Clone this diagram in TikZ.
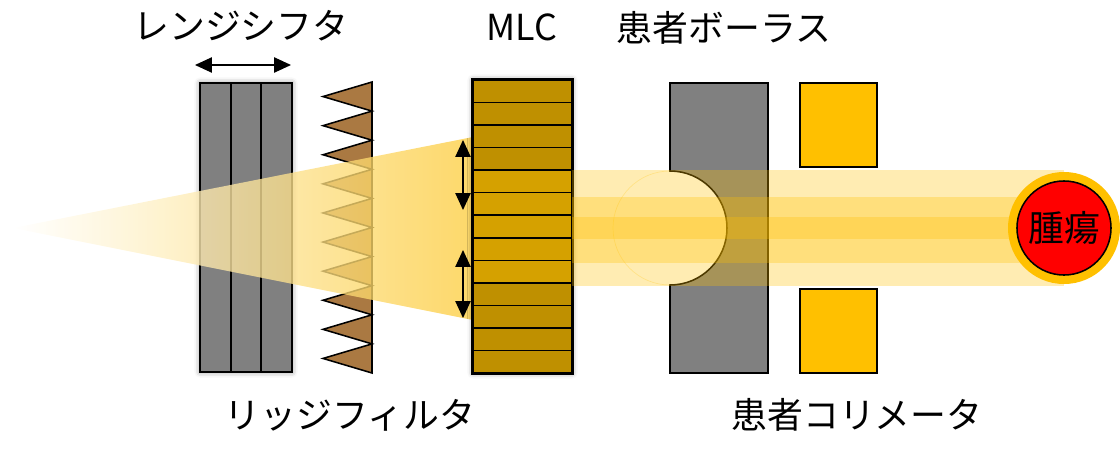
\documentclass[tikz,border=0pt]{standalone}
\usepackage{fontspec}
\setmainfont{Noto Sans CJK JP}
\usetikzlibrary{arrows.meta,shadows.blur}
\definecolor{shiftgray}{RGB}{128,128,128}
\definecolor{ridgebrown}{RGB}{170,121,66}
\definecolor{leafgold}{RGB}{191,144,0}
\definecolor{leaflight}{RGB}{213,161,0}
\definecolor{beamgold}{RGB}{255,192,0}
\definecolor{conegold}{RGB}{252,205,64}
\definecolor{tumorred}{RGB}{255,0,0}

\begin{document}
\begin{tikzpicture}[
  x=0.025cm, y=0.025cm,
  outline/.style={draw=black, line width=1.1pt},
  grayblock/.style={rectangle, outline, fill=shiftgray, inner sep=0pt},
  leaf/.style={draw=black, line width=1.1pt},
  collblock/.style={rectangle, outline, fill=beamgold, inner sep=0pt, minimum width=1.925cm, minimum height=2.1cm},
  band/.style={fill=beamgold, fill opacity=0.3},
  partname/.style={font=\fontsize{25.5}{30}\selectfont, inner sep=0pt},
  shiftarrow/.style={{Triangle[length=4.2mm,width=3.8mm]}-{Triangle[length=4.2mm,width=3.8mm]}, line width=0.9pt},
  softshadow/.style={blur shadow={shadow xshift=0pt, shadow yshift=0pt, shadow blur radius=4pt, shadow opacity=45}}
]
\clip (0,0) rectangle (1120,450);

% range shifter, three plates
\node[grayblock, softshadow, minimum width=2.3cm, minimum height=7.225cm] (shifter) at (246,222.5) {};
\foreach \x in {231,261}
  \draw[line width=1.1pt] (\x,78) -- (\x,367);
\coordinate (shiftL) at (195,385);
\coordinate (shiftR) at (291,385);
\draw[shiftarrow] (shiftL) -- (shiftR);

% ridge filter teeth
\draw[outline, fill=ridgebrown] (372,368)
  \foreach \k in {0,...,9}{ -- (323,{368-29.1*(\k+0.5)}) -- (372,{368-29.1*(\k+1)}) } -- cycle;

% spreading beam in front of the MLC
\coordinate (apex) at (13,222);
\shade[left color=white, right color=conegold, fill opacity=0.78] (apex) -- (473,313) -- (473,130) -- cycle;

% MLC leaves
\node[rectangle, softshadow, outline, fill=leafgold, inner sep=0pt, minimum width=2.475cm, minimum height=7.325cm] (mlc) at (522.5,223.5) {};
\foreach \i in {0,1,2,3,9,10,11,12}
  \draw[leaf, fill=leafgold] (473,{370-22.54*\i}) rectangle (572,{370-22.54*(\i+1)});
\foreach \i in {4,...,8}
  \draw[leaf, fill=leaflight] (473,{370-22.54*\i}) rectangle (572,{370-22.54*(\i+1)});
\draw[outline] (mlc.south west) rectangle (mlc.north east);

% patient bolus with the round cut-out
\draw[outline, fill=shiftgray] (670,77) -- (768,77) -- (768,367) -- (670,367) -- (670,279)
  arc[start angle=90, end angle=-90, radius=57] -- cycle;

% patient collimator
\node[collblock] (colltop) at (838.5,325) {};
\node[collblock] (collbot) at (838.5,119) {};

% shaped beam
\fill[band] (572,164) rectangle (1064,280);
\fill[band] (572,187) rectangle (1064,253);
\fill[band] (572,211) rectangle (1064,233);
\draw[beamgold, opacity=0.25, line width=0.5pt] (670,279) arc[start angle=90, end angle=270, radius=57];

% leaf motion
\coordinate (upA) at (463,310);
\coordinate (downA) at (463,240);
\coordinate (upB) at (463,200);
\coordinate (downB) at (463,132);
\draw[shiftarrow] (upA) -- (downA);
\draw[shiftarrow] (upB) -- (downB);

% target
\node[circle, fill=beamgold, inner sep=0pt, minimum size=2.8cm] (halo) at (1064,222) {};
\node[circle, outline, fill=tumorred, inner sep=0pt, minimum size=2.35cm, font=\fontsize{25.5}{30}\selectfont] (tumor) at (1064,222) {腫瘍};

% names
\node[partname] (shiftname) at (241,424) {レンジシフタ};
\node[partname] (mlcname) at (522,423) {MLC};
\node[partname] (bolusname) at (724,422) {患者ボーラス};
\node[partname] (ridgename) at (350,35) {リッジフィルタ};
\node[partname] (collname) at (857,35) {患者コリメータ};
\end{tikzpicture}
\end{document}
